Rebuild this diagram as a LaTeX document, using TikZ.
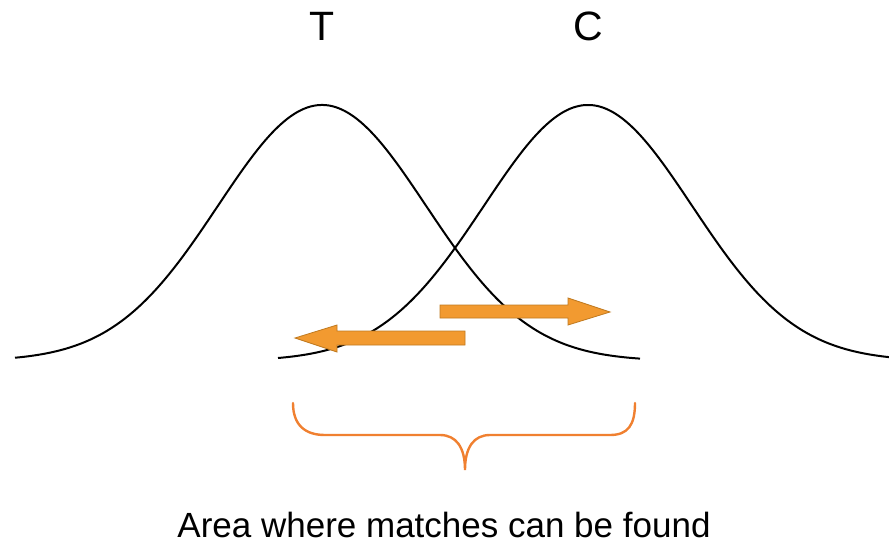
\documentclass[tikz,border=0pt]{standalone}
\usepackage{fontspec}
\setmainfont{Liberation Sans}
\definecolor{arrfill}{HTML}{F29A30}
\definecolor{arrdraw}{HTML}{C07A20}
\definecolor{bracecol}{HTML}{F08030}
\tikzset{
  curve/.style={line width=2pt, black},
  fatarrow/.style={fill=arrfill, draw=arrdraw, line width=0.8pt, line join=miter},
  brace/.style={draw=bracecol, line width=2.4pt, line cap=round},
  lbl/.style={anchor=base, inner sep=0pt, font=\fontsize{41}{48}\selectfont},
  caption/.style={anchor=base, inner sep=0pt, font=\fontsize{35}{42}\selectfont}
}
\begin{document}
\begin{tikzpicture}[x=1pt,y=-1pt]
\useasboundingbox (0,0) rectangle (889,544);
\fill[white] (0,0) rectangle (889,544);
% labels
\node[lbl] (T) at (322,40) {T};
\node[lbl] (C) at (588,40) {C};
\node[caption] (area) at (444,537) {Area where matches can be found};
% curves
\draw[curve] plot[domain=15:640, samples=200, smooth] (\x, {361-256*exp(-0.5*((\x-322)/104)^2)});
\draw[curve] plot[domain=278:889, samples=200, smooth] (\x, {361-256*exp(-0.5*((\x-588)/104)^2)});
% arrows
\draw[fatarrow] (440,305) -- (568,305) -- (568,298) -- (610,312) -- (568,325) -- (568,318) -- (440,318) -- cycle;
\draw[fatarrow] (465,331) -- (337,331) -- (337,325) -- (295,338) -- (337,352) -- (337,345) -- (465,345) -- cycle;
% brace
\draw[brace] (293,403) .. controls (293,425) and (305,435) .. (325,435) -- (440,435)
  .. controls (456,435) and (465,447) .. (465,470)
  .. controls (465,447) and (474,435) .. (490,435) -- (610,435)
  .. controls (628,435) and (635,425) .. (635,403);
\end{tikzpicture}
\end{document}
